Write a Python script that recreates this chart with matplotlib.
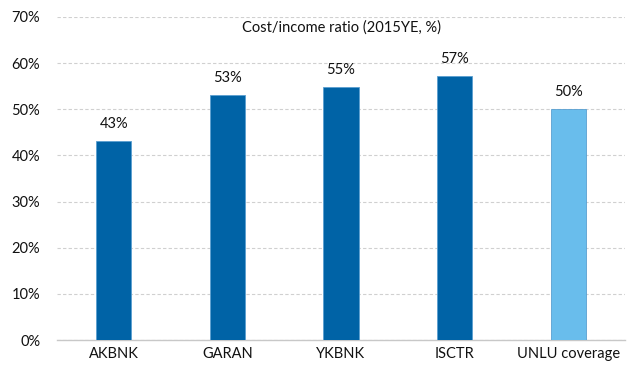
import matplotlib
matplotlib.use('Agg')
import numpy as np
from matplotlib import pyplot as plt
from matplotlib.ticker import FuncFormatter

banks = ['AKBNK', 'GARAN', 'YKBNK', 'ISCTR', 'UNLU coverage']
cost_income = [43.2, 53.0, 54.9, 57.2, 50.1]
labels = ['43%', '53%', '55%', '57%', '50%']
bar_colors = ['#0063a6', '#0063a6', '#0063a6', '#0063a6', '#69bdec']

plt.rcParams['font.family'] = ['Lato', 'DejaVu Sans']

fig = plt.figure(figsize=(6.29, 3.67), dpi=100)
ax = fig.add_axes([57 / 629, 1 - 340 / 367, 568 / 629, 323 / 367])

x = np.arange(len(banks))
ax.bar(x, cost_income, width=0.31, color=bar_colors, edgecolor='#5a9fd0', linewidth=0.6, zorder=3)
for xi, v, lab in zip(x, cost_income, labels):
    ax.text(xi, v + 2.2, lab, ha='center', va='bottom', fontsize=10.5, color='#111111')

ax.set_xlim(-0.5, len(banks) - 0.5)
ax.set_ylim(0, 70)
ax.set_yticks(np.arange(0, 71, 10))
ax.yaxis.set_major_formatter(FuncFormatter(lambda v, p: '%d%%' % v))
ax.set_xticks(x)
ax.set_xticklabels(banks)
ax.tick_params(axis='both', length=0, labelsize=10.5, colors='#111111')
ax.tick_params(axis='y', pad=12)
ax.tick_params(axis='x', pad=5)

ax.grid(axis='y', linestyle=(0, (3, 2)), color='#d0d0d0', linewidth=0.8, zorder=0)
for s in ['top', 'right', 'left']:
    ax.spines[s].set_visible(False)
ax.spines['bottom'].set_color('#c8c8c8')
ax.spines['bottom'].set_linewidth(1.0)

# chart title sits inside the plot area, centred over the middle bar
ax.text(2.0, 67.7, 'Cost/income ratio (2015YE, %)', ha='center', va='center',
        fontsize=10.5, color='#111111')

fig.savefig('out.png', dpi=100)
